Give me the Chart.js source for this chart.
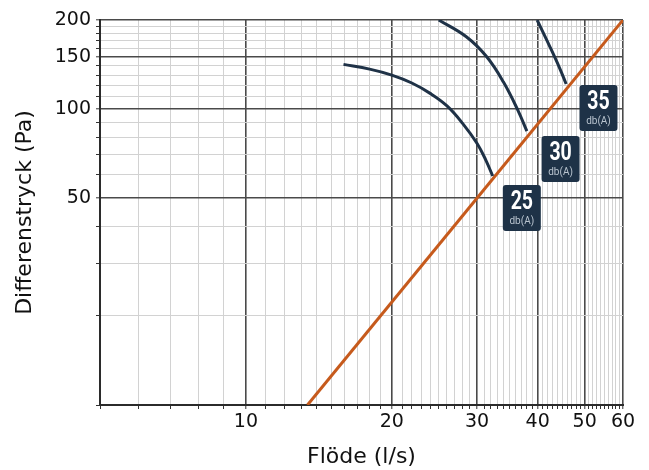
<!DOCTYPE html>
<html>
<head>
<meta charset="utf-8">
<script src="https://cdn.jsdelivr.net/npm/chart.js@4"></script>
<style>
  html,body{margin:0;padding:0;background:#fff;}
  #wrap{width:649px;height:470px;}
</style>
</head>
<body>
<div id="wrap"><canvas id="chart" width="649" height="470"></canvas></div>
<script>
// data (log-log: flöde vs differenstryck)
const curve25 = [[15.9,141.6],[18,136.5],[20,130.3],[22,122.5],[24,113],[26,102.5],[28,89.5],[30,76.5],[31.3,67],[32.3,59.4]];
const curve30 = [[25.0,200],[28.5,175.5],[31.4,150.2],[34.0,123.4],[36.4,99.2],[38.0,84.3]];
const curve35 = [[39.9,200],[42.4,162.4],[44.4,137.6],[45.8,121.5]];
const systemLine = [[13.4,10],[60,200]];

const badgeText = ['25','30','35'];
const badgeX = [37.1, 44.6, 53.4];
const badgeY = [46.3, 67.8, 100.8];

const xGrid = [5,6,7,8,9,10,11,12,13,14,15,16,17,18,19,20,21,22,23,24,25,26,27,28,29,30,31,32,33,34,35,36,37,38,39,40,41,42,43,44,45,46,47,48,49,50,51,52,53,54,55,56,57,58,59,60];
const xMajor = [10,20,30,40,50,60];
const xLabels = [10,20,30,40,50,60];
const yGrid = [10,20,30,40,50,60,70,80,90,100,110,120,130,140,150,160,170,180,190,200];
const yMajor = [50,100,150,200];
const yLabels = [50,100,150,200];

const NAVY = '#1f3247', ORANGE = '#c65a1c';
const toPts = a => a.map(p => ({x:p[0], y:p[1]}));

const badges = {
  id:'badges',
  afterDatasetsDraw(chart){
    const {ctx, scales:{x,y}} = chart;
    ctx.save();
    badgeText.forEach((t,i)=>{
      const cx = x.getPixelForValue(badgeX[i]), cy = y.getPixelForValue(badgeY[i]);
      const w = 38, h = 46;
      ctx.fillStyle = '#1e3247';
      ctx.beginPath();
      ctx.roundRect(cx-w/2, cy-h/2, w, h, 3);
      ctx.fill();
      // condensed bold number
      ctx.save();
      ctx.translate(cx, cy-5);
      ctx.scale(0.78,1);
      ctx.fillStyle = '#ffffff';
      ctx.font = 'bold 25px Roboto';
      ctx.textAlign = 'center'; ctx.textBaseline = 'middle';
      ctx.fillText(t, 0, 0);
      ctx.restore();
      ctx.fillStyle = '#b9c4cf';
      ctx.font = '10px Roboto';
      ctx.textAlign = 'center'; ctx.textBaseline = 'middle';
      ctx.fillText('db(A)', cx, cy+13);
    });
    ctx.restore();
  }
};

const whiteBg = {
  id:'whiteBg',
  beforeDraw(chart){ const c=chart.ctx; c.save(); c.fillStyle='#fff'; c.fillRect(0,0,chart.width,chart.height); c.restore(); }
};

const lineDs = (data,color) => ({data:toPts(data), borderColor:color, borderWidth:3, pointRadius:0, fill:false, tension:0.4, borderCapStyle:'butt'});

new Chart(document.getElementById('chart').getContext('2d'),{
  type:'line',
  data:{datasets:[lineDs(curve25,NAVY), lineDs(curve30,NAVY), lineDs(curve35,NAVY), lineDs(systemLine,ORANGE)]},
  options:{
    responsive:false, animation:false, devicePixelRatio:1,
    layout:{padding:{top:20,right:26,bottom:0,left:0}},
    plugins:{legend:{display:false}, tooltip:{enabled:false}},
    scales:{
      x:{
        type:'logarithmic', min:5, max:60,
        afterBuildTicks: s => { s.ticks = xGrid.map(v=>({value:v})); },
        afterFit: s => { s.height = 65; },
        ticks:{autoSkip:false, maxRotation:0, padding:2, color:'#111', font:{family:'DejaVu Sans', size:19},
          callback: v => xLabels.includes(v) ? String(v) : ''},
        grid:{
          color: c => xMajor.includes(c.tick && c.tick.value) ? '#4a4a4a' : '#d2d2d2',
          lineWidth: c => xMajor.includes(c.tick && c.tick.value) ? 1.6 : 1,
          tickColor:'#333', tickLength:4, tickWidth:1
        },
        border:{color:'#2b2b2b', width:2},
        title:{display:true, text:'Flöde (l/s)', color:'#111', font:{family:'DejaVu Sans', size:22}, padding:{top:0,bottom:0}}
      },
      y:{
        type:'logarithmic', min:10, max:200,
        afterBuildTicks: s => { s.ticks = yGrid.map(v=>({value:v})); },
        afterFit: s => { s.width = 100; },
        ticks:{autoSkip:false, padding:5, color:'#111', font:{family:'DejaVu Sans', size:19},
          callback: v => yLabels.includes(v) ? String(v) : ''},
        grid:{
          color: c => yMajor.includes(c.tick && c.tick.value) ? '#4a4a4a' : '#d2d2d2',
          lineWidth: c => yMajor.includes(c.tick && c.tick.value) ? 1.6 : 1,
          tickColor:'#333', tickLength:4, tickWidth:1
        },
        border:{color:'#2b2b2b', width:2},
        title:{display:true, text:'Differenstryck (Pa)', color:'#111', font:{family:'DejaVu Sans', size:22}, padding:{top:12,bottom:0}}
      }
    }
  },
  plugins:[whiteBg, badges]
});
</script>
</body>
</html>
